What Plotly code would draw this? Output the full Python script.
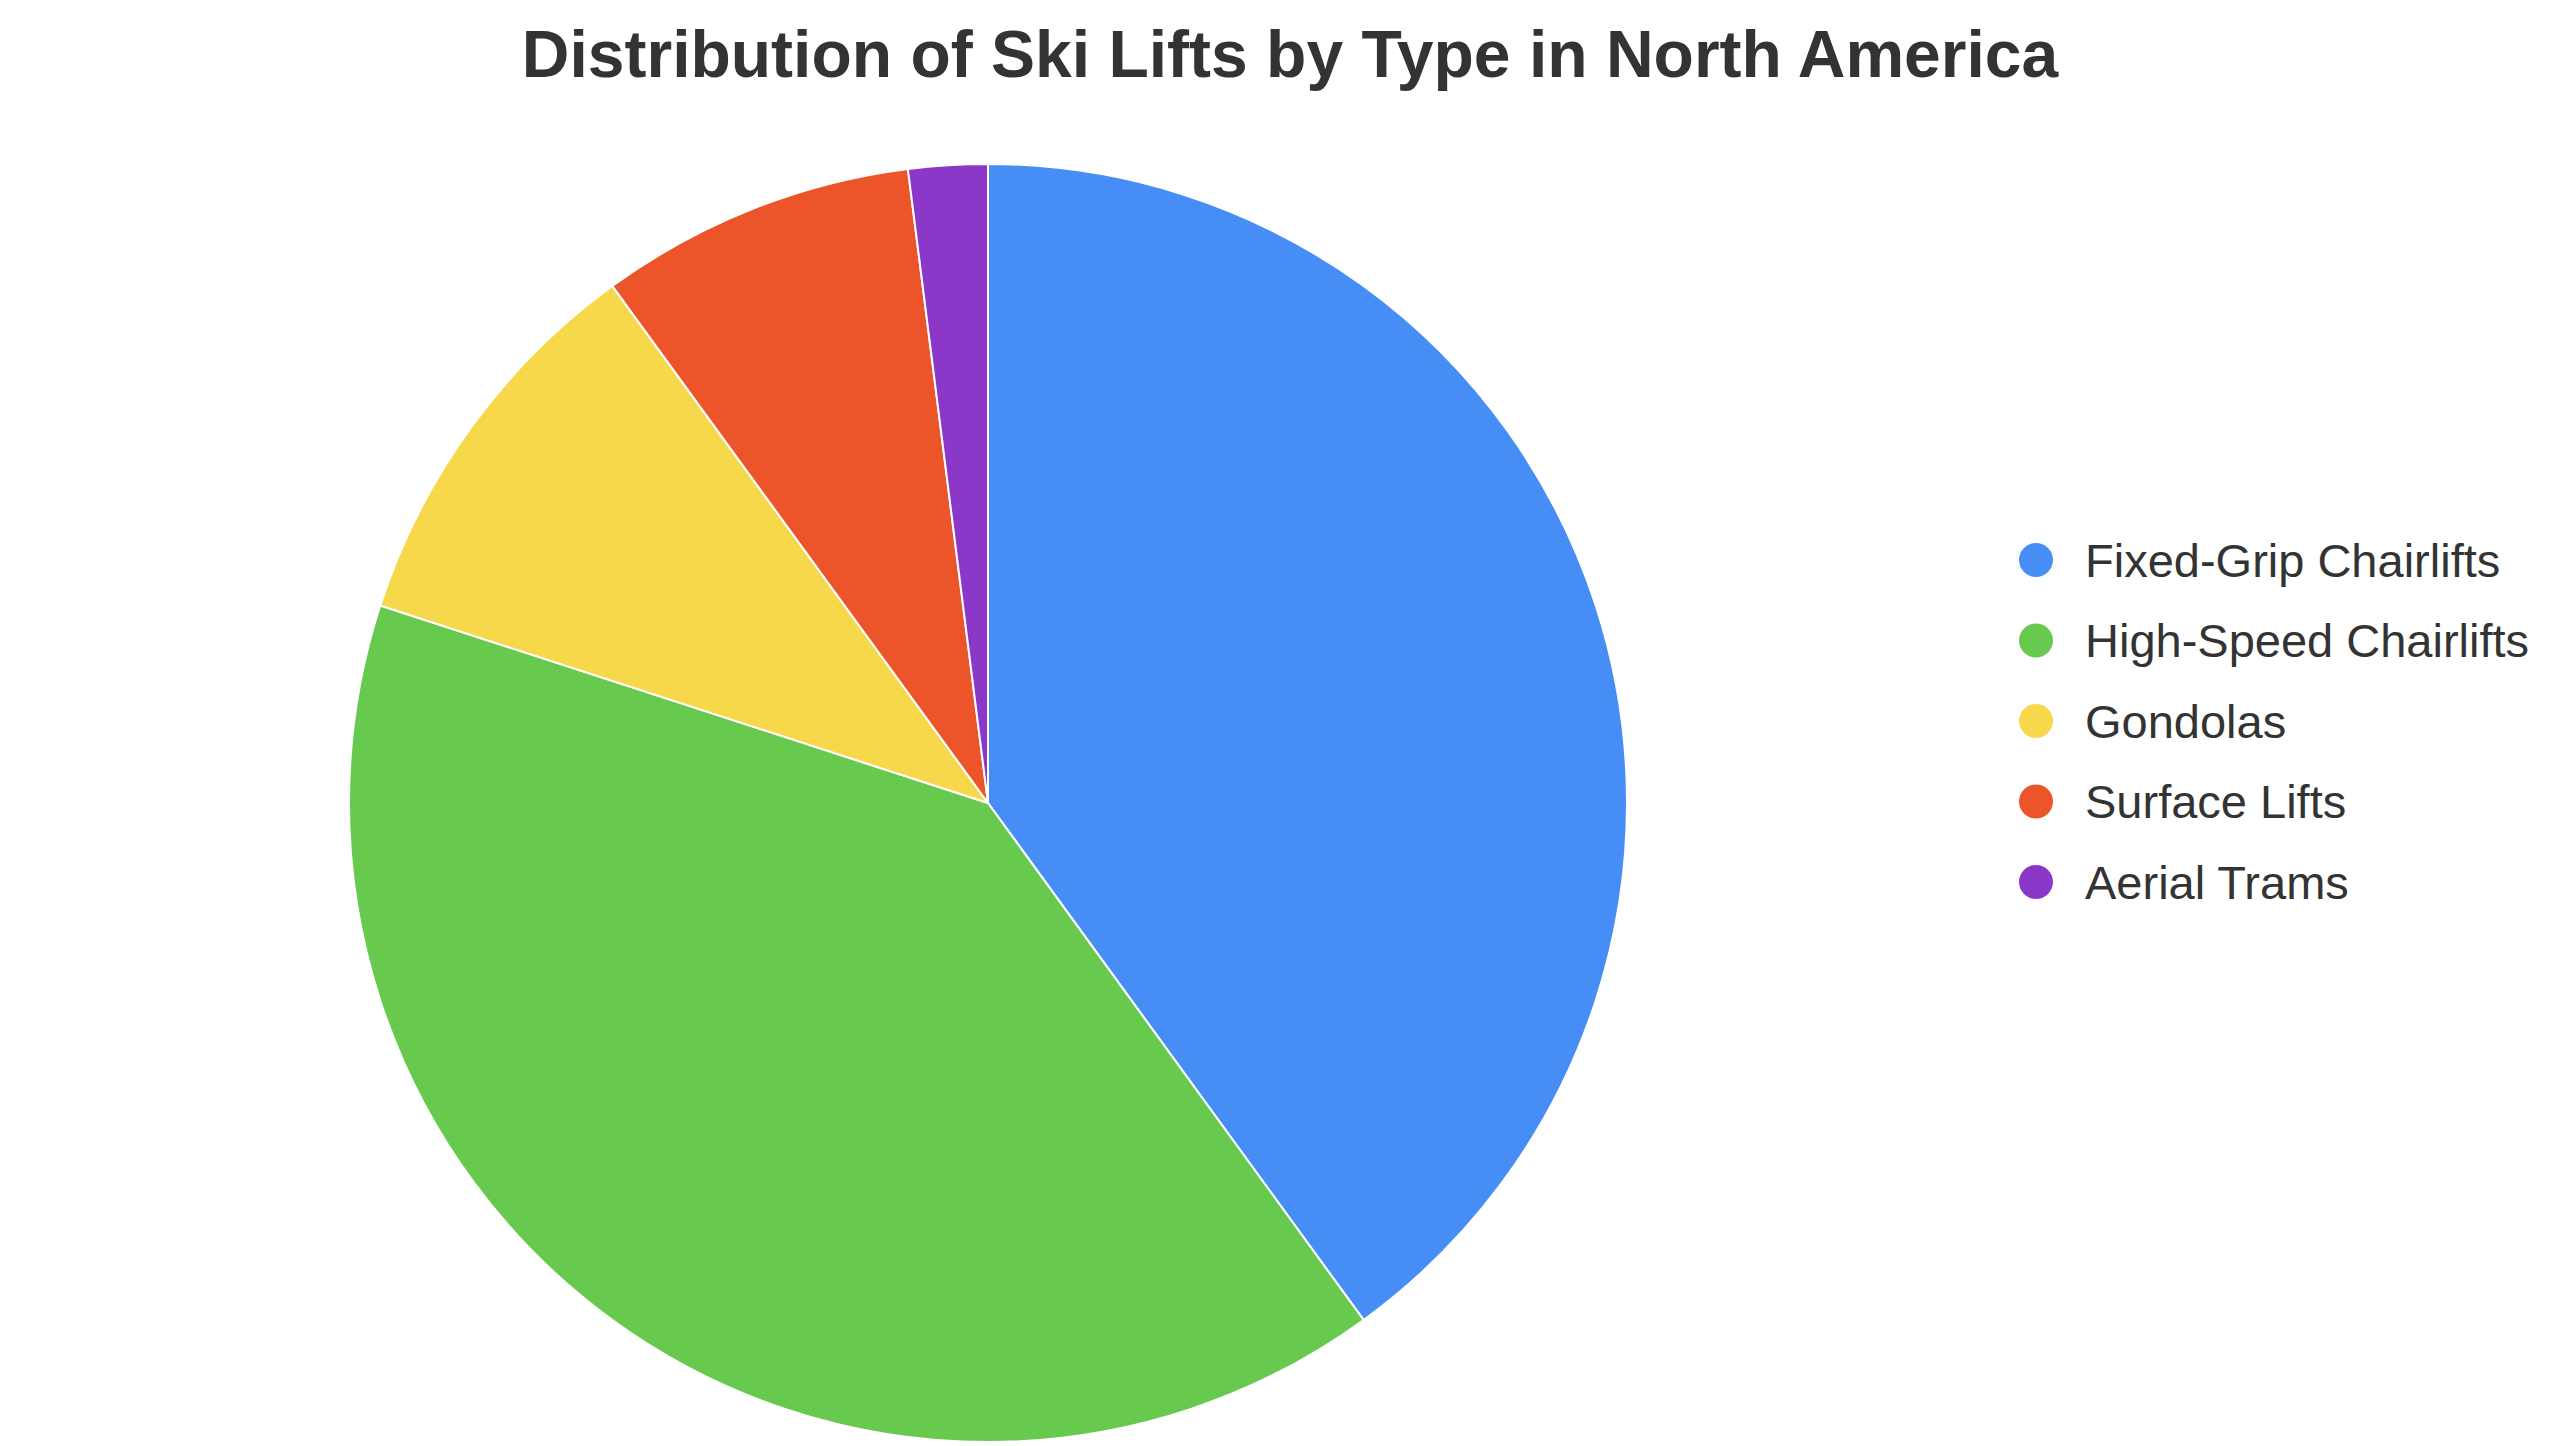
import plotly.graph_objects as go

W, H = 2560, 1446
OFF = 8  # page body margin in the browser

labels = ["Fixed-Grip Chairlifts", "High-Speed Chairlifts", "Gondolas", "Surface Lifts", "Aerial Trams"]
values = [40, 40, 10, 8, 2]
colors = ["#468ef5", "#67ca4e", "#f7d84b", "#eb5529", "#8b38c9"]

# pie geometry in screen pixels
cx, cy, r = 988 - OFF, 803 - OFF, 639

fig = go.Figure()
fig.add_trace(go.Pie(
    labels=labels,
    values=values,
    sort=False,
    direction="clockwise",
    rotation=0,
    textinfo="none",
    hoverinfo="label+percent",
    marker=dict(colors=colors, line=dict(color="#ffffff", width=2)),
    domain=dict(x=[(cx - r) / W, (cx + r) / W], y=[(H - cy - r) / H, (H - cy + r) / H]),
    showlegend=False,
))

# custom legend with circular markers
leg_x_circle = 2036 - OFF
leg_x_text = 2083 - OFF
leg_y0 = 560 - OFF
leg_dy = 80.5
shapes = []
annotations = []
for i, (lab, col) in enumerate(zip(labels, colors)):
    yc = leg_y0 + i * leg_dy
    shapes.append(dict(
        type="circle", xref="paper", yref="paper",
        xsizemode="pixel", ysizemode="pixel",
        xanchor=leg_x_circle / W, yanchor=1 - yc / H,
        x0=-17, x1=17, y0=-17, y1=17,
        fillcolor=col, line=dict(width=0),
    ))
    annotations.append(dict(
        text=lab, xref="paper", yref="paper",
        x=leg_x_text / W, y=1 - yc / H,
        xanchor="left", yanchor="middle", showarrow=False,
        font=dict(family="Liberation Sans, Arial, sans-serif", size=47, color="#333333"),
    ))

fig.update_layout(
    width=W, height=H,
    margin=dict(l=0, r=0, t=0, b=0),
    paper_bgcolor="#ffffff",
    plot_bgcolor="#ffffff",
    title=dict(
        text="<b>Distribution of Ski Lifts by Type in North America</b>",
        x=(1290 - OFF) / W, xanchor="center",
        y=1 - (54 - OFF) / H, yanchor="middle", yref="container",
        font=dict(family="Liberation Sans, Arial, sans-serif", size=66, color="#333333"),
    ),
    shapes=shapes,
    annotations=annotations,
)

fig.write_html("out.html")
